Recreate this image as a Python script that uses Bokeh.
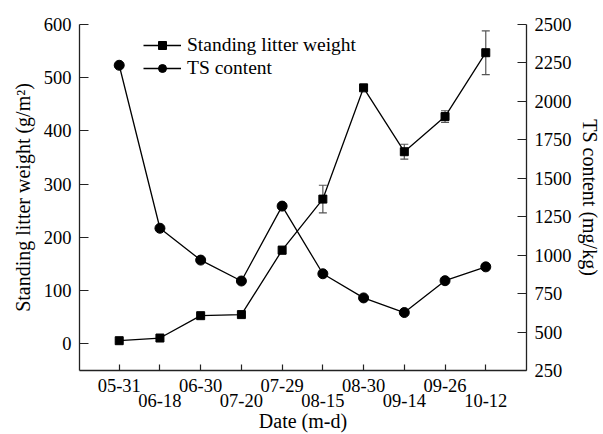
from bokeh.plotting import figure
from bokeh.models import (ColumnDataSource, Range1d, LinearAxis, FixedTicker,
                          Whisker, TeeHead, Legend, LegendItem)
from bokeh.embed import file_html
from bokeh.resources import INLINE

# Sampling dates (month-day)
dates = ["05-31", "06-18", "06-30", "07-20", "07-29",
         "08-15", "08-30", "09-14", "09-26", "10-12"]
# Standing litter weight (g/m2) and its standard error
litter = [6, 11, 53, 55, 176, 272, 481, 361, 427, 547]
litter_se = [2, 2, 3, 3, 7, 26, 5, 14, 11, 41]
# TS content (mg/kg)
ts = [2235, 1175, 968, 832, 1319, 879, 722, 627, 834, 924]

left_ticks = [0, 100, 200, 300, 400, 500, 600]
right_ticks = [250, 500, 750, 1000, 1250, 1500, 1750, 2000, 2250, 2500]

FONT = "Liberation Serif"
FS = "18.5px"
FS_TITLE = "20px"
FS_LEG = "19.5px"
AX = "#222222"

idx = list(range(len(dates)))
src = ColumnDataSource(dict(
    x=idx, litter=litter, ts=ts,
    lo=[v - e for v, e in zip(litter, litter_se)],
    hi=[v + e for v, e in zip(litter, litter_se)],
))

p = figure(width=603, height=434, output_backend="svg", toolbar_location=None,
           x_range=Range1d(-0.975, 10.0), y_range=Range1d(-50, 600),
           min_border_left=79, min_border_right=74, min_border_top=24,
           min_border_bottom=62)
p.outline_line_color = None
p.xgrid.visible = False
p.ygrid.visible = False
p.extra_y_ranges = {"ts": Range1d(250, 2500)}


def style_axis(ax, tick_in=9):
    ax.axis_line_color = AX
    ax.axis_line_width = 1.3
    ax.major_tick_line_color = AX
    ax.major_tick_line_width = 1.2
    ax.major_tick_in = tick_in
    ax.major_tick_out = 0
    ax.minor_tick_line_color = None
    ax.major_label_text_font = FONT
    ax.major_label_text_font_size = FS
    ax.major_label_text_color = "black"
    ax.axis_label_text_font = FONT
    ax.axis_label_text_font_size = FS_TITLE
    ax.axis_label_text_font_style = "normal"
    ax.axis_label_text_color = "black"


# Left axis: litter weight
ly = p.yaxis[0]
style_axis(ly)
ly.ticker = FixedTicker(ticks=left_ticks)
ly.major_label_standoff = 8
ly.axis_label = "Standing litter weight (g/m²)"
ly.axis_label_standoff = 7

# Right axis: TS content
ry = LinearAxis(y_range_name="ts", ticker=FixedTicker(ticks=right_ticks))
style_axis(ry)
ry.major_label_standoff = 8
ry.axis_label = "TS content (mg/kg)"
ry.axis_label_standoff = 4
p.add_layout(ry, "right")

# Bottom axis: dates staggered over two rows
bx = p.xaxis[0]
style_axis(bx, tick_in=6)
bx.ticker = FixedTicker(ticks=idx)
bx.major_label_standoff = 8
bx.major_label_overrides = {i: (d if i % 2 == 0 else "") for i, d in enumerate(dates)}

bx2 = LinearAxis(ticker=FixedTicker(ticks=idx))
style_axis(bx2, tick_in=0)
bx2.axis_line_color = None
bx2.major_tick_line_color = None
bx2.major_label_standoff = -1
bx2.major_label_overrides = {i: (d if i % 2 == 1 else "") for i, d in enumerate(dates)}
bx2.axis_label = "Date (m-d)"
bx2.axis_label_standoff = 0
p.add_layout(bx2, "below")

# Error bars behind the markers
wh = Whisker(source=src, base="x", lower="lo", upper="hi",
             line_color="#555555", line_width=1.2, level="underlay",
             upper_head=TeeHead(size=8, line_color="#555555", line_width=1.2),
             lower_head=TeeHead(size=8, line_color="#555555", line_width=1.2))
p.add_layout(wh)

l1 = p.line("x", "litter", source=src, line_color="black", line_width=1.3)
m1 = p.scatter("x", "litter", source=src, marker="square", size=8,
               fill_color="black", line_color="black")
l2 = p.line("x", "ts", source=src, y_range_name="ts", line_color="black", line_width=1.3)
m2 = p.scatter("x", "ts", source=src, y_range_name="ts", marker="circle", size=10,
               fill_color="black", line_color="black")

legend = Legend(items=[
    LegendItem(label="Standing litter weight", renderers=[l1, m1]),
    LegendItem(label="TS content", renderers=[l2, m2]),
], location=(64, 291))
legend.border_line_color = None
legend.background_fill_alpha = 0
legend.padding = 0
legend.margin = 0
legend.spacing = 1
legend.glyph_width = 38
legend.glyph_height = 20
legend.label_height = 20
legend.label_standoff = 6
legend.label_text_font = FONT
legend.label_text_font_size = FS_LEG
legend.label_text_color = "black"
p.add_layout(legend)

open("out.html", "w").write(file_html(p, INLINE))
